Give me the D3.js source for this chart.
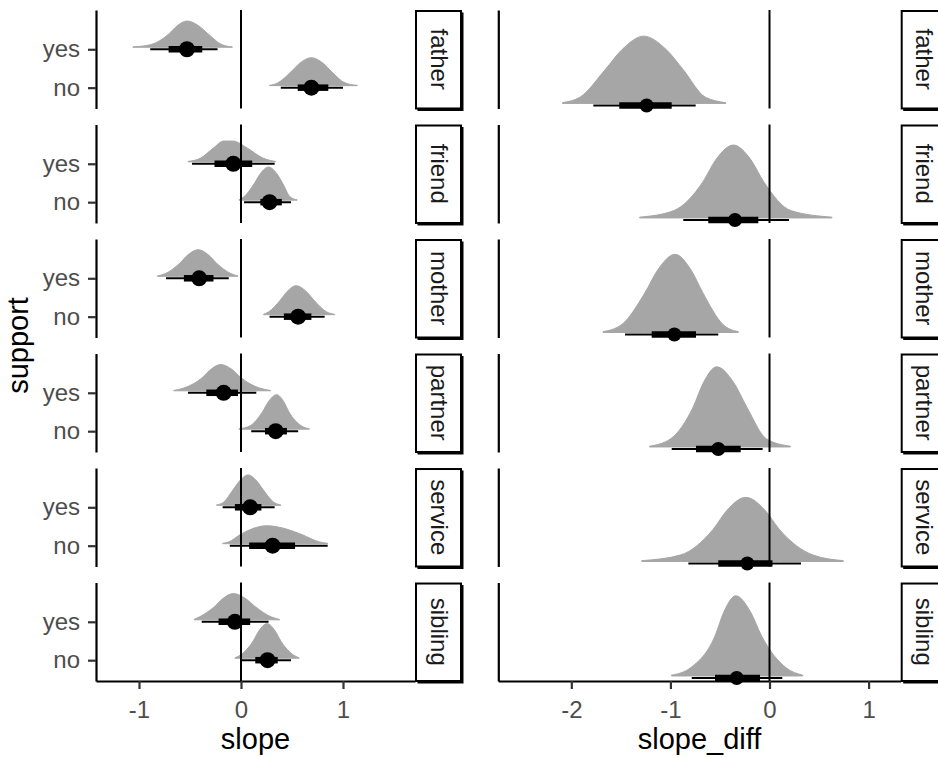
<html lang="en">
  <head>
    <meta charset="UTF-8" />
    <title>slope by support</title>
    <script src="https://d3js.org/d3.v7.min.js"></script>
  </head>
  <style>
    body {
      margin: 0px;
      overflow: hidden;
      background: #fff;
    }
    text {
      font-family: "Liberation Sans", Arial, sans-serif;
    }
  </style>
  <body>
    <svg width="938" height="758"></svg>
  </body>
  <footer>
    <script>
      var relations = ["father", "friend", "mother", "partner", "service", "sibling"];
      var supportLevels = ["no", "yes"];
      var slopeTicks = [-1, 0, 1];
      var diffTicks = [-2, -1, 0, 1];

      // left panel, support == "yes" (one entry per relation)
      var yesMedian = [-0.53, -0.075, -0.41, -0.17, 0.09, -0.06];
      var yesInner = [[-0.71, -0.38], [-0.26, 0.11], [-0.56, -0.27], [-0.34, -0.03], [-0.06, 0.2], [-0.22, 0.09]];
      var yesOuter = [[-0.89, -0.23], [-0.48, 0.33], [-0.735, -0.12], [-0.52, 0.15], [-0.18, 0.33], [-0.385, 0.27]];
      // [x, density relative to tallest slab in the panel]
      var yesDensity = [
        [[-1.06, 0.01], [-0.88, 0.08], [-0.71, 0.38], [-0.63, 0.61], [-0.53, 0.76], [-0.41, 0.61], [-0.32, 0.38], [-0.19, 0.08], [-0.085, 0.01]],
        [[-0.52, 0.01], [-0.4, 0.1], [-0.27, 0.4], [-0.17, 0.6], [-0.08, 0.6], [0.06, 0.4], [0.22, 0.1], [0.34, 0.01]],
        [[-0.82, 0.01], [-0.74, 0.08], [-0.6, 0.38], [-0.52, 0.62], [-0.42, 0.77], [-0.32, 0.62], [-0.24, 0.38], [-0.1, 0.08], [-0.03, 0.01]],
        [[-0.66, 0.01], [-0.56, 0.08], [-0.38, 0.38], [-0.3, 0.61], [-0.2, 0.76], [-0.085, 0.61], [0.0, 0.38], [0.18, 0.08], [0.29, 0.01]],
        [[-0.24, 0.01], [-0.17, 0.09], [-0.08, 0.44], [-0.015, 0.7], [0.07, 0.88], [0.155, 0.7], [0.22, 0.44], [0.32, 0.09], [0.39, 0.01]],
        [[-0.46, 0.01], [-0.41, 0.08], [-0.26, 0.38], [-0.18, 0.61], [-0.075, 0.76], [0.047, 0.61], [0.14, 0.38], [0.3, 0.08], [0.38, 0.01]]
      ];

      // left panel, support == "no"
      var noMedian = [0.69, 0.28, 0.56, 0.34, 0.31, 0.26];
      var noInner = [[0.556, 0.856], [0.19, 0.4], [0.42, 0.69], [0.235, 0.45], [0.08, 0.53], [0.14, 0.36]];
      var noOuter = [[0.39, 1.0], [0.03, 0.49], [0.28, 0.82], [0.1, 0.56], [-0.11, 0.85], [0.007, 0.49]];
      var noDensity = [
        [[0.28, 0.01], [0.36, 0.08], [0.49, 0.4], [0.576, 0.65], [0.69, 0.81], [0.804, 0.65], [0.89, 0.4], [1.02, 0.08], [1.14, 0.01]],
        [[-0.02, 0.01], [0.03, 0.1], [0.13, 0.48], [0.19, 0.77], [0.27, 0.96], [0.35, 0.77], [0.41, 0.48], [0.48, 0.1], [0.55, 0.01]],
        [[0.22, 0.01], [0.27, 0.08], [0.385, 0.42], [0.452, 0.67], [0.54, 0.84], [0.64, 0.67], [0.715, 0.42], [0.84, 0.08], [0.92, 0.01]],
        [[-0.02, 0.01], [0.09, 0.1], [0.21, 0.5], [0.27, 0.8], [0.35, 1.0], [0.418, 0.8], [0.47, 0.5], [0.59, 0.1], [0.67, 0.01]],
        [[-0.18, 0.01], [-0.12, 0.05], [-0.01, 0.26], [0.1, 0.42], [0.25, 0.52], [0.45, 0.42], [0.6, 0.26], [0.77, 0.05], [0.85, 0.01]],
        [[-0.06, 0.01], [0.0, 0.1], [0.12, 0.5], [0.178, 0.8], [0.255, 1.0], [0.332, 0.8], [0.39, 0.5], [0.51, 0.1], [0.57, 0.01]]
      ];

      // right panel, slope_diff
      var diffMedian = [-1.24, -0.348, -0.96, -0.517, -0.224, -0.331];
      var diffInner = [[-1.516, -0.987], [-0.618, -0.113], [-1.189, -0.742], [-0.742, -0.291], [-0.517, 0.03], [-0.55, -0.096]];
      var diffOuter = [[-1.778, -0.745], [-0.87, 0.197], [-1.458, -0.517], [-0.987, -0.069], [-0.819, 0.318], [-0.785, 0.129]];
      var diffDensity = [
        [[-2.09, 0.01], [-1.91, 0.08], [-1.66, 0.42], [-1.49, 0.67], [-1.27, 0.84], [-1.04, 0.67], [-0.87, 0.42], [-0.65, 0.08], [-0.44, 0.01]],
        [[-1.31, 0.01], [-0.97, 0.09], [-0.67, 0.455], [-0.54, 0.73], [-0.365, 0.91], [-0.19, 0.73], [-0.06, 0.455], [0.22, 0.09], [0.63, 0.01]],
        [[-1.68, 0.01], [-1.49, 0.1], [-1.26, 0.49], [-1.128, 0.78], [-0.954, 0.975], [-0.792, 0.78], [-0.67, 0.49], [-0.47, 0.1], [-0.315, 0.01]],
        [[-1.21, 0.01], [-1.0, 0.1], [-0.77, 0.5], [-0.668, 0.8], [-0.533, 1.0], [-0.36, 0.8], [-0.23, 0.5], [-0.03, 0.1], [0.21, 0.01]],
        [[-1.29, 0.01], [-0.9, 0.08], [-0.57, 0.4], [-0.428, 0.64], [-0.24, 0.8], [-0.046, 0.64], [0.1, 0.4], [0.44, 0.08], [0.745, 0.01]],
        [[-0.99, 0.01], [-0.8, 0.1], [-0.55, 0.5], [-0.46, 0.8], [-0.34, 1.0], [-0.192, 0.8], [-0.08, 0.5], [0.17, 0.1], [0.335, 0.01]]
      ];

      var svg = d3.select("svg");
      var slabColor = "#a6a6a6";
      var axisW = 2.2;

      var facet = d3.scaleBand().domain(relations).range([10, 681]).paddingInner(0.14);
      var fh = facet.bandwidth();

      var xL = d3.scaleLinear().domain([-1.4216, 1.7059]).range([96, 415]);
      var xR = d3.scaleLinear().domain([-2.737, 1.324]).range([498.3, 900.7]);
      // y inside one facet; no = 1, yes = 2 on the left, single row on the right
      var yL = d3.scaleLinear().domain([0.458, 3.023]).range([fh, 0]);
      var yR = d3.scaleLinear().domain([0.966, 2.072]).range([fh, 0]);

      function styleAxis(g) {
        g.select(".domain").attr("stroke", "#000").attr("stroke-width", axisW);
        g.selectAll(".tick line").attr("stroke", "#333").attr("stroke-width", axisW);
        g.selectAll(".tick text")
          .attr("fill", "#4d4d4d")
          .attr("font-size", 24)
          .attr("font-family", "'Liberation Sans', Arial, sans-serif");
      }

      function halfEye(g, x, y, level, dens, outer, inner, med, r) {
        var area = d3
          .area()
          .x(function (d) {
            return x(d[0]);
          })
          .y0(y(level) - 2)
          .y1(function (d) {
            return y(level + 0.9 * d[1]) - 2;
          })
          .curve(d3.curveMonotoneX);
        g.append("path")
          .datum(dens)
          .attr("d", area)
          .attr("fill", slabColor)
          .attr("stroke", slabColor)
          .attr("stroke-width", 1);
        g.append("line")
          .attr("x1", x(outer[0]))
          .attr("x2", x(outer[1]))
          .attr("y1", y(level))
          .attr("y2", y(level))
          .attr("stroke", "#000")
          .attr("stroke-width", 2);
        g.append("line")
          .attr("x1", x(inner[0]))
          .attr("x2", x(inner[1]))
          .attr("y1", y(level))
          .attr("y2", y(level))
          .attr("stroke", "#000")
          .attr("stroke-width", 6.5);
        g.append("circle")
          .attr("cx", x(med))
          .attr("cy", y(level))
          .attr("r", r)
          .attr("fill", "#000");
      }

      function strip(g, x0, label) {
        var w = 46;
        g.append("rect")
          .attr("x", x0 + 2.5)
          .attr("y", 2.5)
          .attr("width", w)
          .attr("height", fh)
          .attr("fill", "#000");
        g.append("rect")
          .attr("x", x0 + 1)
          .attr("y", 1)
          .attr("width", w - 1)
          .attr("height", fh - 1)
          .attr("fill", "#fff")
          .attr("stroke", "#000")
          .attr("stroke-width", 2);
        g.append("text")
          .attr("transform", "translate(" + (x0 + w / 2 + 1) + "," + fh / 2 + ") rotate(90)")
          .attr("text-anchor", "middle")
          .attr("dy", "0.35em")
          .attr("font-size", 24)
          .attr("fill", "#1a1a1a")
          .text(label);
      }

      relations.forEach(function (rel, i) {
        var g = svg.append("g").attr("transform", "translate(0," + facet(rel) + ")");

        // left panel: slope by support
        halfEye(g, xL, yL, 2, yesDensity[i], yesOuter[i], yesInner[i], yesMedian[i], 8);
        halfEye(g, xL, yL, 1, noDensity[i], noOuter[i], noInner[i], noMedian[i], 8);
        g.append("line")
          .attr("x1", xL(0))
          .attr("x2", xL(0))
          .attr("y1", 0)
          .attr("y2", fh)
          .attr("stroke", "#000")
          .attr("stroke-width", 2);
        g.append("g")
          .attr("transform", "translate(" + xL.range()[0] + ",0)")
          .call(
            d3
              .axisLeft(yL)
              .tickValues([1, 2])
              .tickFormat(function (d) {
                return supportLevels[d - 1];
              })
              .tickSize(8)
              .tickSizeOuter(0)
              .tickPadding(8)
          )
          .call(styleAxis);
        strip(g, xL.range()[1], rel);

        // right panel: slope_diff
        var gr = g.append("g");
        var areaR = d3
          .area()
          .x(function (d) {
            return xR(d[0]);
          })
          .y0(yR(1) - 2)
          .y1(function (d) {
            return yR(1 + 0.9 * d[1]) - 2;
          })
          .curve(d3.curveMonotoneX);
        gr.append("path")
          .datum(diffDensity[i])
          .attr("d", areaR)
          .attr("fill", slabColor)
          .attr("stroke", slabColor)
          .attr("stroke-width", 1);
        gr.append("line")
          .attr("x1", xR(0))
          .attr("x2", xR(0))
          .attr("y1", 0)
          .attr("y2", fh)
          .attr("stroke", "#000")
          .attr("stroke-width", 2);
        gr.append("line")
          .attr("x1", xR(diffOuter[i][0]))
          .attr("x2", xR(diffOuter[i][1]))
          .attr("y1", yR(1))
          .attr("y2", yR(1))
          .attr("stroke", "#000")
          .attr("stroke-width", 2);
        gr.append("line")
          .attr("x1", xR(diffInner[i][0]))
          .attr("x2", xR(diffInner[i][1]))
          .attr("y1", yR(1))
          .attr("y2", yR(1))
          .attr("stroke", "#000")
          .attr("stroke-width", 6.5);
        gr.append("circle")
          .attr("cx", xR(diffMedian[i]))
          .attr("cy", yR(1))
          .attr("r", 7)
          .attr("fill", "#000");
        gr.append("g")
          .attr("transform", "translate(" + xR.range()[0] + ",0)")
          .call(d3.axisLeft(yR).tickValues([]).tickSizeOuter(0))
          .call(styleAxis);
        strip(gr, xR.range()[1], rel);
      });

      // x axes, bottom row only
      var bottomY = facet(relations[relations.length - 1]) + fh;
      svg
        .append("g")
        .attr("transform", "translate(0," + bottomY + ")")
        .call(
          d3
            .axisBottom(xL)
            .tickValues(slopeTicks)
            .tickFormat(function (d) {
              return String(d);
            })
            .tickSize(8)
            .tickSizeOuter(0)
            .tickPadding(12)
        )
        .call(styleAxis);
      svg
        .append("g")
        .attr("transform", "translate(0," + bottomY + ")")
        .call(
          d3
            .axisBottom(xR)
            .tickValues(diffTicks)
            .tickFormat(function (d) {
              return String(d);
            })
            .tickSize(8)
            .tickSizeOuter(0)
            .tickPadding(12)
        )
        .call(styleAxis);

      // axis titles
      svg
        .append("text")
        .attr("x", (xL.range()[0] + xL.range()[1]) / 2)
        .attr("y", 749)
        .attr("text-anchor", "middle")
        .attr("font-size", 29)
        .attr("fill", "#000")
        .text("slope");
      svg
        .append("text")
        .attr("x", (xR.range()[0] + xR.range()[1]) / 2)
        .attr("y", 749)
        .attr("text-anchor", "middle")
        .attr("font-size", 29)
        .attr("fill", "#000")
        .text("slope_diff");
      svg
        .append("text")
        .attr("transform", "translate(28," + (10 + bottomY) / 2 + ") rotate(-90)")
        .attr("text-anchor", "middle")
        .attr("font-size", 29)
        .attr("fill", "#000")
        .text("support");
    </script>
  </footer>
</html>
